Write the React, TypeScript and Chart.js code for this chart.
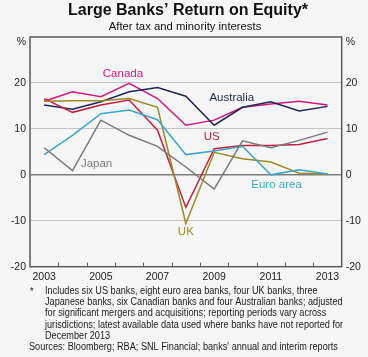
import React, { useEffect, useRef } from "react";
import { Chart, registerables } from "chart.js";

Chart.register(...registerables);

const years = ["2003", "2004", "2005", "2006", "2007", "2008", "2009", "2010", "2011", "2012", "2013"];
const canada = [16.0, 18.1, 17.0, 19.9, 16.6, 10.8, 11.9, 14.7, 15.4, 16.0, 15.2];
const australia = [15.2, 14.3, 15.9, 18.1, 19.0, 17.1, 10.8, 14.7, 15.9, 13.9, 14.9];
const us = [16.6, 13.6, 15.2, 16.3, 9.7, -7.1, 5.7, 6.4, 6.4, 6.6, 7.9];
const uk = [16.0, 16.1, 16.1, 16.6, 14.7, -10.6, 4.9, 3.5, 2.8, 0.35, 0.2];
const euroArea = [4.4, 8.6, 13.3, 14.1, 12.0, 4.4, 5.2, 6.2, 0.0, 1.1, 0.2];
const japan = [5.9, 0.9, 11.9, 8.6, 6.2, 1.7, -3.1, 7.4, 5.9, 7.5, 9.3];
const yTicks = [-20, -10, 0, 10, 20, 30];

const title = "Large Banks\u2019 Return on Equity*";
const subtitle = "After tax and minority interests";
const footnoteLines = [
  "Includes six US banks, eight euro area banks, four UK banks, three",
  "Japanese banks, six Canadian banks and four Australian banks; adjusted",
  "for significant mergers and acquisitions; reporting periods vary across",
  "jurisdictions; latest available data used where banks have not reported for",
  "December 2013",
];
const sourcesLine = "Sources: Bloomberg; RBA; SNL Financial; banks' annual and interim reports";

const FONT = "'Liberation Sans', Arial, Helvetica, sans-serif";

const seriesLabels = [
  { text: "Canada", x: 2.78, y: 21.9, color: "#d4177f" },
  { text: "Australia", x: 6.62, y: 16.8, color: "#1e2850" },
  { text: "US", x: 5.91, y: 8.2, color: "#c2203c" },
  { text: "Japan", x: 1.85, y: 2.5, color: "#7a7a7a" },
  { text: "Euro area", x: 8.2, y: -2.2, color: "#3aa5c9" },
  { text: "UK", x: 5.0, y: -12.4, color: "#9a8a28" },
];

const decorPlugin = {
  id: "decor",
  beforeDraw(chart: any) {
    const ctx = chart.ctx;
    ctx.save();
    ctx.fillStyle = "#f6f6f6";
    ctx.fillRect(0, 0, chart.width, chart.height);
    ctx.restore();
  },
  afterDraw(chart: any) {
    const ctx = chart.ctx;
    const ca = chart.chartArea;
    const xs = chart.scales.x;
    const ys = chart.scales.y;
    ctx.save();
    // box
    ctx.strokeStyle = "#5a5a5a";
    ctx.lineWidth = 1.5;
    ctx.strokeRect(ca.left, ca.top, ca.right - ca.left, ca.bottom - ca.top);
    // x tick marks at year boundaries
    ctx.lineWidth = 1;
    for (let i = 1; i < years.length; i++) {
      const px = (xs.getPixelForValue(i - 1) + xs.getPixelForValue(i)) / 2;
      ctx.beginPath();
      ctx.moveTo(Math.round(px) + 0.5, ca.bottom);
      ctx.lineTo(Math.round(px) + 0.5, ca.bottom - 4);
      ctx.stroke();
    }
    // % labels
    ctx.fillStyle = "#222";
    ctx.font = `10.5px ${FONT}`;
    ctx.textBaseline = "middle";
    ctx.textAlign = "right";
    ctx.fillText("%", ca.left - 4, ca.top + 5);
    ctx.textAlign = "left";
    ctx.fillText("%", ca.right + 4, ca.top + 5);
    // series labels
    ctx.font = `11.5px ${FONT}`;
    ctx.textAlign = "center";
    for (const l of seriesLabels) {
      ctx.fillStyle = l.color;
      const px = xs.left + ((l.x + 0.5) / years.length) * (xs.right - xs.left);
      ctx.fillText(l.text, px, ys.getPixelForValue(l.y));
    }
    // title
    ctx.fillStyle = "#111";
    ctx.font = `bold 16px ${FONT}`;
    ctx.fillText(title, chart.width / 2 + 4, 11);
    ctx.font = `11.3px ${FONT}`;
    ctx.fillText(subtitle, chart.width / 2 + 1, 26.5);
    // footnotes (slightly condensed face)
    ctx.textAlign = "left";
    ctx.font = `10px ${FONT}`;
    ctx.fillStyle = "#1a1a1a";
    const sx = 0.915;
    const draw = (t: string, x: number, y: number) => {
      ctx.save();
      ctx.translate(x, y);
      ctx.scale(sx, 1);
      ctx.fillText(t, 0, 0);
      ctx.restore();
    };
    draw("*", 30, 292);
    footnoteLines.forEach((line, i) => {
      draw(line, 45, 291 + i * 11.3);
    });
    draw(sourcesLine, 29, 291 + 5 * 11.3);
    ctx.restore();
  },
};

function mkSet(label: string, data: number[], color: string) {
  return {
    label,
    data,
    borderColor: color,
    backgroundColor: color,
    borderWidth: 1.5,
    pointRadius: 0,
    tension: 0,
    fill: false,
  };
}

export default function App() {
  const ref = useRef<HTMLCanvasElement | null>(null);
  useEffect(() => {
    document.body.style.margin = "0";
    const canvas = ref.current;
    if (!canvas) return;
    const gridColor = (c: any) => {
      const v = c.tick && c.tick.value;
      if (v === 0) return "#7d7d7d";
      if (v === 30 || v === -20) return "rgba(0,0,0,0)";
      return "#c4c4c4";
    };
    const chart = new Chart(canvas, {
      type: "line",
      data: {
        labels: years,
        datasets: [
          mkSet("Japan", japan, "#7a7a7a"),
          mkSet("Euro area", euroArea, "#3aa5c9"),
          mkSet("UK", uk, "#9a8a28"),
          mkSet("US", us, "#c2203c"),
          mkSet("Australia", australia, "#1e2850"),
          mkSet("Canada", canada, "#d4177f"),
        ],
      },
      options: {
        responsive: false,
        animation: false,
        layout: { padding: { top: 37, bottom: 70.3, left: 0, right: 0 } },
        plugins: {
          legend: { display: false },
          title: { display: false },
          tooltip: { enabled: false },
        },
        scales: {
          x: {
            type: "category",
            offset: true,
            grid: { display: false, drawTicks: false },
            border: { display: false },
            ticks: {
              autoSkip: false,
              maxRotation: 0,
              padding: 4,
              color: "#222",
              font: { size: 10.5, family: FONT },
              callback: (_v: any, i: number) => (i % 2 === 0 ? years[i] : ""),
            },
            afterFit: (s: any) => {
              s.height = 20;
            },
          },
          y: {
            position: "left",
            min: -20,
            max: 30,
            afterBuildTicks: (s: any) => {
              s.ticks = yTicks.map((v) => ({ value: v }));
            },
            grid: { color: gridColor, lineWidth: (c: any) => (c.tick && c.tick.value === 0 ? 1.5 : 1), drawTicks: false },
            border: { display: false },
            ticks: {
              padding: 4,
              color: "#222",
              font: { size: 10.5, family: FONT },
              callback: (v: any) => (v === 30 ? "" : String(v)),
            },
            afterFit: (s: any) => {
              s.width = 30;
            },
          },
          y2: {
            position: "right",
            min: -20,
            max: 30,
            afterBuildTicks: (s: any) => {
              s.ticks = yTicks.map((v) => ({ value: v }));
            },
            grid: { drawOnChartArea: false, drawTicks: false },
            border: { display: false },
            ticks: {
              padding: 4,
              color: "#222",
              font: { size: 10.5, family: FONT },
              callback: (v: any) => (v === 30 ? "" : String(v)),
            },
            afterFit: (s: any) => {
              s.width = 26.3;
            },
          },
        },
      },
      plugins: [decorPlugin],
    } as any);
    return () => chart.destroy();
  }, []);
  return (
    <div style={{ position: "absolute", left: 0, top: 0, width: 368, height: 357 }}>
      <canvas ref={ref} width={368} height={357} />
    </div>
  );
}
